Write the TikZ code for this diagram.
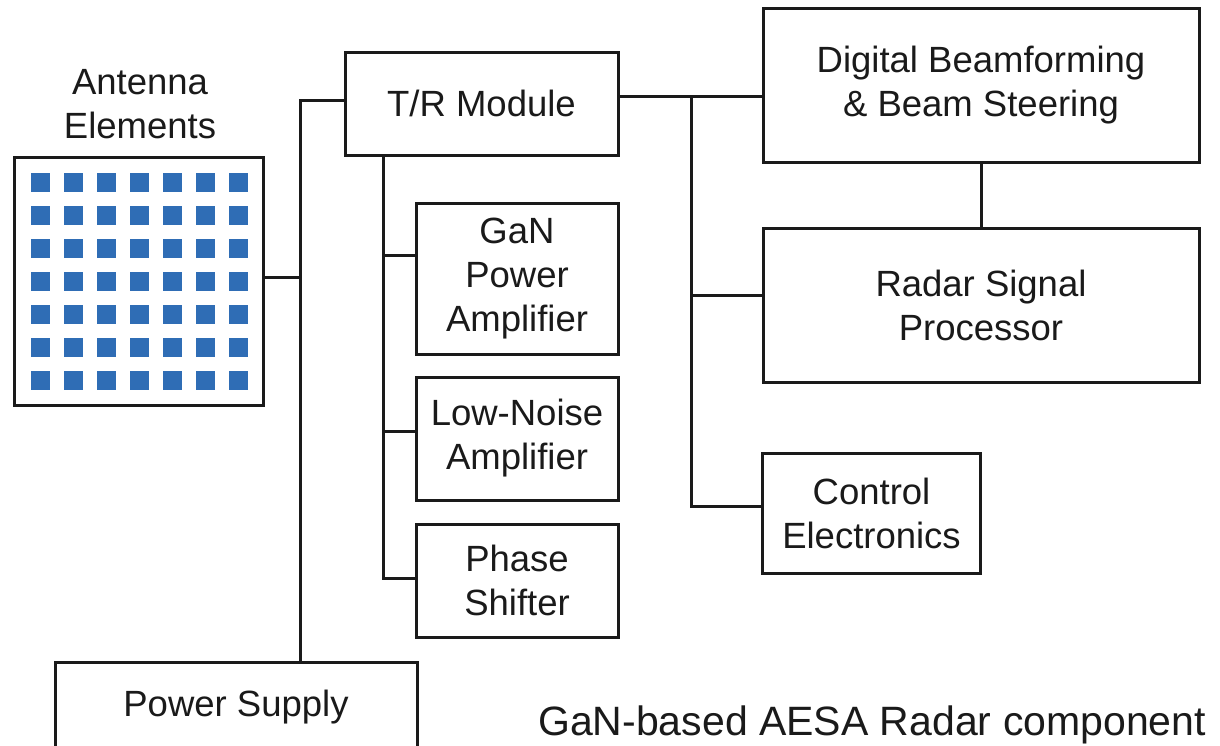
\documentclass[tikz,border=0pt]{standalone}
\usepackage{fontspec}
\setmainfont{Liberation Sans}
\definecolor{elemblue}{RGB}{47,109,181}
\definecolor{ink}{RGB}{26,26,26}
\begin{document}
\begin{tikzpicture}[x=1pt,y=-1pt,
  box/.style={draw=ink, line width=3pt, rectangle, inner sep=0pt, align=center,
    text=ink, font=\fontsize{36.5}{44}\selectfont},
  lbl/.style={inner sep=0pt, align=center, text=ink, font=\fontsize{36.5}{44}\selectfont},
  wire/.style={draw=ink, line width=3pt},
  elem/.style={fill=elemblue}]
\clip (0,0) rectangle (1220,745);
\fill[white] (0,0) rectangle (1220,745);

% antenna
\node[box, minimum width=249pt, minimum height=248pt] (ant) at (138.5,281) {};
\foreach \i in {0,...,6}{
  \foreach \j in {0,...,6}{
    \fill[elem] ({31+33*\i},{173+33*\j}) rectangle ++(19,19);
  }
}
\node[lbl] (antl) at (140,104) {Antenna\\Elements};

% boxes
\node[box, minimum width=273pt, minimum height=103pt] (tr) at (481.5,103.5) {T/R Module};
\node[box, minimum width=202pt, minimum height=151pt] (gan) at (517,278.5) {GaN\\Power\\Amplifier};
\node[box, minimum width=202pt, minimum height=123pt] (lna) at (517,438.5) {Low-Noise\\Amplifier};
\node[box, minimum width=202pt, minimum height=113pt] (ps) at (517,580.5) {Phase\\Shifter};
\node[box, minimum width=436pt, minimum height=154pt] (dbf) at (981,85) {Digital Beamforming\\\& Beam Steering};
\node[box, minimum width=436pt, minimum height=154pt] (rsp) at (981,305) {Radar Signal\\Processor};
\node[box, minimum width=218pt, minimum height=120pt] (ce) at (871.5,513) {Control\\Electronics};
\node[box, minimum width=362pt, minimum height=90pt] (pwr) at (236,707) {Power Supply};

\node[inner sep=0pt, anchor=base west, text=ink, font=\fontsize{41}{48}\selectfont] (title) at (538,735) {GaN-based AESA Radar component};

% coordinates
\coordinate (bx) at (300,100);
\coordinate (tx) at (383,0);
\coordinate (g1) at (383,255);
\coordinate (l1) at (383,431);
\coordinate (rx) at (691,96);
\coordinate (r1) at (691,295);
\coordinate (c1) at (691,506);

% left bus
\draw[wire] (tr.west |- bx) -- (bx) -- (pwr.north -| bx);
\draw[wire] (ant.east |- 0,277) -- (bx |- 0,277);

% T/R trunk
\draw[wire] (tr.south -| tx) |- (ps.west |- 0,578);
\draw[wire] (g1) -- (g1 -| gan.west);
\draw[wire] (l1) -- (l1 -| lna.west);

% right bus
\draw[wire] (tr.east |- rx) -- (rx -| dbf.west);
\draw[wire] (rx) -- (c1) -- (c1 -| ce.west);
\draw[wire] (r1) -- (r1 -| rsp.west);
\draw[wire] (dbf) -- (rsp);
\end{tikzpicture}
\end{document}
